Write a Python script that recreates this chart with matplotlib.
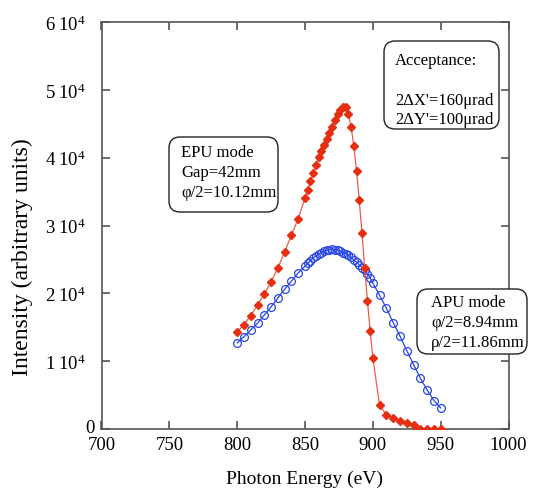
import matplotlib
matplotlib.use('Agg')
import matplotlib.pyplot as plt
from matplotlib.patches import FancyBboxPatch
from matplotlib.transforms import IdentityTransform, ScaledTranslation

plt.rcParams['font.family'] = ['Liberation Serif', 'DejaVu Serif']
plt.rcParams['mathtext.fontset'] = 'custom'
plt.rcParams['mathtext.rm'] = 'Liberation Serif'
plt.rcParams['mathtext.it'] = 'Liberation Serif:italic'

# Photon energy grid (eV): coarse on the wings, fine around the peak
energy = ([800, 805, 810, 815, 820, 825, 830, 835, 840, 845]
          + list(range(850, 901, 2))
          + [905, 910, 915, 920, 925, 930, 935, 940, 945, 950])

# EPU mode, Gap=42mm, phi/2=10.12mm  (units of 1e4)
epu_intensity = [1.43, 1.54, 1.67, 1.83, 1.99, 2.17, 2.375, 2.61, 2.86, 3.10,
                 3.41, 3.53, 3.65, 3.78, 3.89, 4.01, 4.10, 4.19, 4.27, 4.36,
                 4.45, 4.55, 4.64, 4.71, 4.75, 4.74, 4.64, 4.45, 4.17, 3.80,
                 3.37, 2.89, 2.38, 1.89, 1.45, 1.05,
                 0.35, 0.21, 0.16, 0.12, 0.085, 0.06, 0.0, 0.0, 0.0, 0.0]

# APU mode, phi/2=8.94mm, rho/2=11.86mm  (units of 1e4)
apu_intensity = [1.27, 1.36, 1.46, 1.56, 1.68, 1.80, 1.93, 2.06, 2.18, 2.30,
                 2.40, 2.44, 2.48, 2.52, 2.55, 2.58, 2.60, 2.62, 2.635, 2.645,
                 2.65, 2.645, 2.635, 2.62, 2.60, 2.585, 2.56, 2.53, 2.49, 2.46,
                 2.42, 2.38, 2.34, 2.29, 2.23, 2.15,
                 1.97, 1.78, 1.57, 1.37, 1.155, 0.95, 0.75, 0.575, 0.42, 0.31]

x_ticks = [700, 750, 800, 850, 900, 950, 1000]
y_ticks = [0, 10000, 20000, 30000, 40000, 50000, 60000]
y_tick_labels = ['0'] + [r'$\mathrm{%d\;10^{4}}$' % k for k in range(1, 7)]

W, H = 533, 489
fig = plt.figure(figsize=(W / 100, H / 100), dpi=100)
ax = fig.add_axes([101.5 / W, 1 - 430 / H, 407 / W, 407 / H])

red = '#e62e12'
blue = '#2845e6'
ax.plot(energy, [v * 1e4 for v in epu_intensity], color='#ee5a46', lw=0.9,
        marker='D', markersize=4.2, mfc=red, mec=red, zorder=3)
ax.plot(energy, [v * 1e4 for v in apu_intensity], color=blue, lw=0.9,
        marker='o', markersize=5.6, mfc='none', mec=blue, mew=0.9, zorder=2)

ax.set_xlim(700, 1000)
ax.set_ylim(0, 60000)
ax.set_xticks(x_ticks)
ax.set_yticks(y_ticks)
ax.set_yticklabels(y_tick_labels)
ax.minorticks_off()

for s in ax.spines.values():
    s.set_color('#555555')
    s.set_linewidth(1.2)
ax.tick_params(direction='in', length=6, width=1.2, color='#555555',
               top=True, right=True, labelsize=13.5, pad=5)
ax.tick_params(axis='y', pad=11.5)

# the plain "0" label sits closer to the axis and a little higher
zero_label = ax.get_yticklabels()[0]
zero_label.set_transform(zero_label.get_transform()
                         + ScaledTranslation(9 / 100, 3 / 100, fig.dpi_scale_trans))

ax.set_xlabel('Photon Energy (eV)', fontsize=14, labelpad=12)
fig.text(22 / W, 1 - 257 / H, 'Intensity (arbitrary units)', fontsize=17,
         rotation=90, ha='center', va='center')


def note_box(x0, y_top, w, h):
    patch = FancyBboxPatch((x0, H - y_top - h), w, h,
                           boxstyle='round,pad=0,rounding_size=11',
                           transform=IdentityTransform(),
                           facecolor='white', edgecolor='#222222', lw=1.0,
                           zorder=5)
    fig.add_artist(patch)


def note_lines(x, baselines, lines):
    for yb, txt in zip(baselines, lines):
        fig.text(x / W, 1 - yb / H, txt, fontsize=12, ha='left',
                 va='baseline', zorder=6)


note_box(169, 138, 109, 75)
note_lines(181, [157, 177, 197], ['EPU mode', 'Gap=42mm', 'φ/2=10.12mm'])

note_box(384, 42, 115, 88)
note_lines(395, [65, 105, 124], ['Acceptance:', "2ΔX'=160μrad", "2ΔY'=100μrad"])

note_box(417, 290, 110, 65)
note_lines(431, [307, 327, 347], ['APU mode', 'φ/2=8.94mm', 'ρ/2=11.86mm'])

fig.savefig('out.png', dpi=100)
